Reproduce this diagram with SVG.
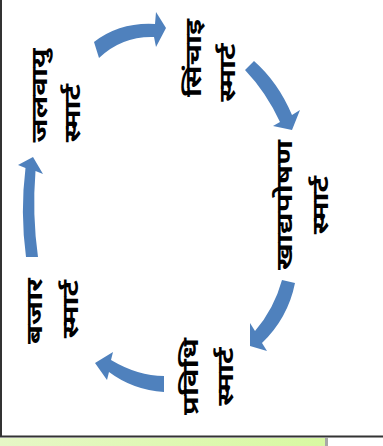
<svg xmlns="http://www.w3.org/2000/svg" width="383" height="446" viewBox="0 0 383 446">
<style>
.lbl{font-family:"Noto Sans Devanagari","Lohit Devanagari","Noto Sans","Nirmala UI","Mangal",sans-serif;font-size:22px;font-weight:bold;fill:#000;text-anchor:middle}
.arr{fill:#4f81bd}
</style>
<defs>
<linearGradient id="g" x1="0" y1="0" x2="1" y2="0">
<stop offset="0" stop-color="#e6f7c6"/>
<stop offset="1" stop-color="#d8f9a2"/>
</linearGradient>
</defs>
<rect x="0" y="0" width="383" height="446" fill="#fff"/>
<rect x="0" y="438" width="325" height="8" fill="url(#g)"/>
<rect x="325" y="438" width="3" height="8" fill="#a8a8a8"/>
<line x1="1" y1="0" x2="1" y2="437" stroke="#333" stroke-width="2"/>
<line x1="0" y1="436.5" x2="383" y2="436.5" stroke="#333" stroke-width="2"/>
<g id="connectors">
<path class="arr" d="M99,58 L94,42 Q120,22 155,24 L156,12 L166,28 L156,47 L154,37 Q122,36 99,58 Z"/>
<path class="arr" d="M254,61 Q278,82 292,115 L300,110 L292,130 L273,126 L280,122 Q266,92 245,70 Z"/>
<path class="arr" d="M295,283 Q288,318 262,343 L267,351 L250,346 L250,323 L255,331 Q274,309 282,280 Z"/>
<path class="arr" d="M164,376 Q138,376 111,360 L113,352 L95,363 L107,380 L109,372 Q133,390 164,392 Z"/>
<path class="arr" d="M26,257 Q20,212 25.5,168 L18,165 L33,157 L43,174 L35.5,171 Q32,214 38,257 Z"/>
</g>
<g id="node-jalbayu">
<text class="lbl" transform="translate(47,95.5) rotate(-90) scale(1.4,1)">जलवायु</text>
<text class="lbl" transform="translate(80,113) rotate(-90) scale(1.4,1)">स्मार्ट</text>
</g>
<g id="node-sinchai">
<text class="lbl" transform="translate(201,58) rotate(-90) scale(1.4,1)">सिंचाइ</text>
<text class="lbl" transform="translate(235,72.5) rotate(-90) scale(1.4,1)">स्मार्ट</text>
</g>
<g id="node-khadyaposhan">
<text class="lbl" transform="translate(292,205) rotate(-90) scale(1.4,1)">खाद्यपोषण</text>
<text class="lbl" transform="translate(328,205) rotate(-90) scale(1.4,1)">स्मार्ट</text>
</g>
<g id="node-prabidhi">
<text class="lbl" transform="translate(198,376.5) rotate(-90) scale(1.4,1)">प्रविधि</text>
<text class="lbl" transform="translate(233,376.5) rotate(-90) scale(1.4,1)">स्मार्ट</text>
</g>
<g id="node-bajar">
<text class="lbl" transform="translate(42,311) rotate(-90) scale(1.4,1)">बजार</text>
<text class="lbl" transform="translate(78,309) rotate(-90) scale(1.4,1)">स्मार्ट</text>
</g>
</svg>
